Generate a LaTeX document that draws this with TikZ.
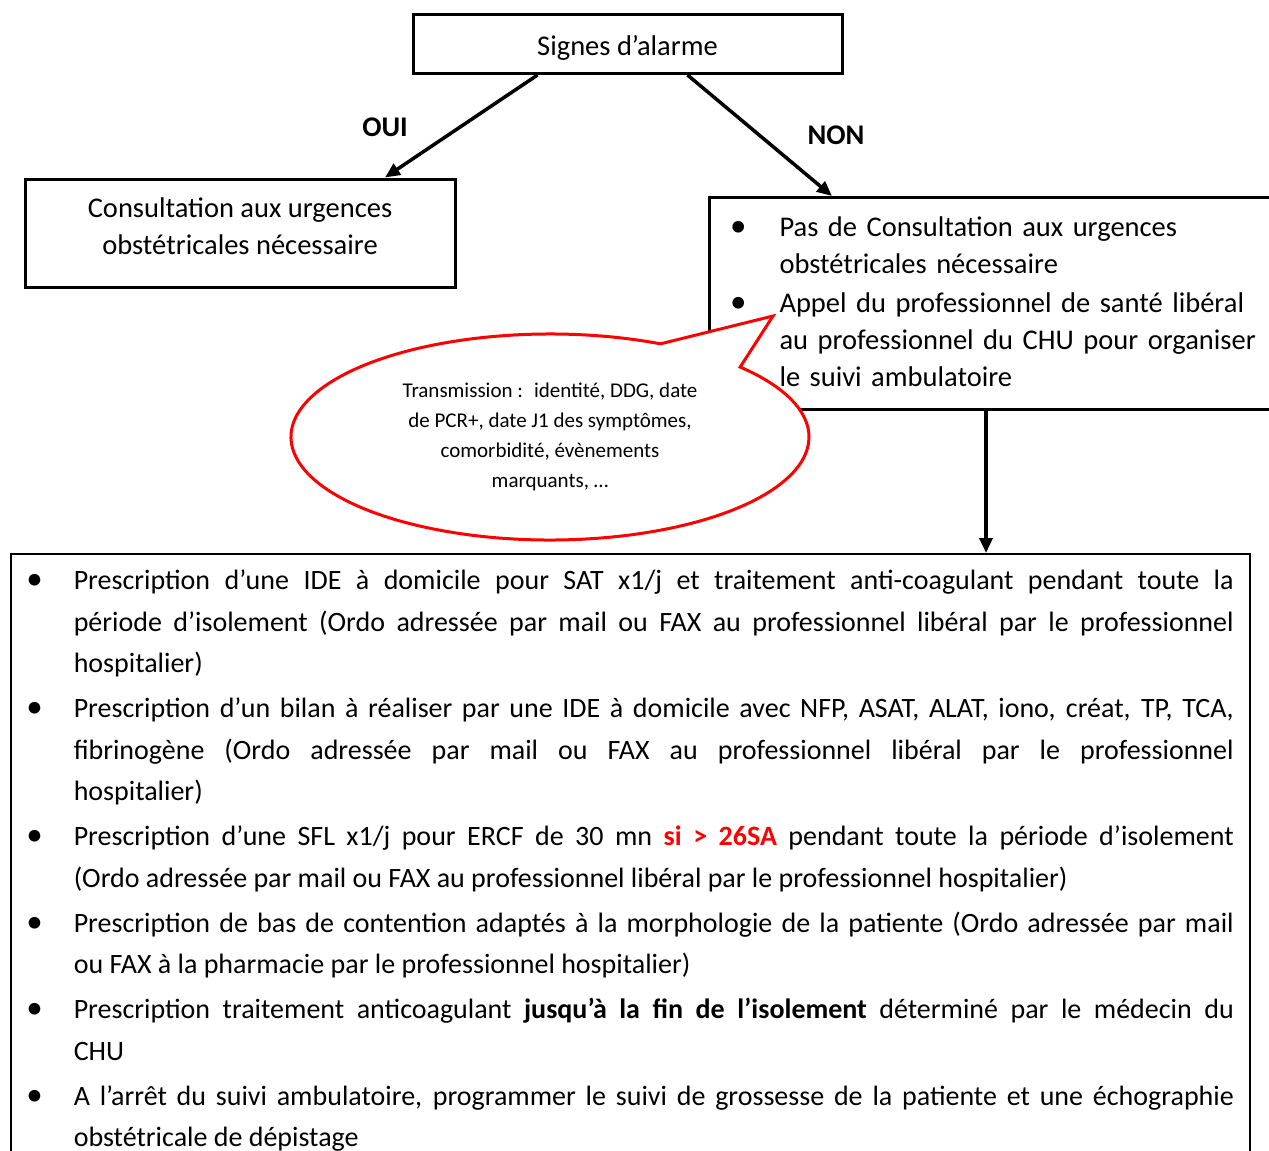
\documentclass[tikz,border=0pt]{standalone}
\usepackage{fontspec}
\setmainfont{Carlito}
\usetikzlibrary{arrows.meta,shapes.callouts}

\newcommand{\puce}[1][31pt]{\noindent\llap{{\fontsize{33}{33}\selectfont\textbullet}\hskip #1}}
\newcommand{\listehaut}{\leftskip=70pt\rightskip=0pt plus 1fil\parindent=0pt\parskip=2pt}
\newcommand{\listebas}{\leftskip=63pt\rightskip=16pt\parindent=0pt\parskip=3.5pt\hyphenpenalty=10000}

\begin{document}
\begin{tikzpicture}[x=1pt,y=-1pt,
    every node/.style={font=\fontsize{28.5}{37}\selectfont},
    cadre/.style={draw, line width=3pt, inner sep=0pt},
    fleche/.style={line width=3.5pt, -{Triangle[length=15pt,width=13pt]}}]
      \useasboundingbox (0,0) rectangle (1269,1151);
      \node[cadre, minimum width=429pt, minimum height=59pt] (alarme) at (627.5,44) {\rule{0pt}{27pt}Signes d’alarme};
      \node[cadre, minimum width=430pt, minimum height=108pt, align=center] (urgences) at (240,233)
        {Consultation aux urgences\\obstétricales nécessaire\rule[-14pt]{0pt}{0pt}};
      \node[cadre, anchor=north west, text width=600pt] (suivi) at (708,196)
        {\listehaut
         \puce[33pt]\rule{0pt}{39pt}Pas de Consultation aux urgences\newline obstétricales nécessaire\par
         \puce[33pt]Appel du professionnel de santé libéral\newline au professionnel du CHU pour organiser\newline le suivi ambulatoire\rule[-23pt]{0pt}{0pt}\par};
      \node[ellipse callout, draw=red, fill=white, line width=3pt, minimum width=518pt, minimum height=206pt,
        callout absolute pointer={(773,316)}, callout pointer arc=22, align=center, inner sep=0pt,
        font=\fontsize{21}{30}\selectfont] (transmission) at (550,437)
        {Transmission :~ identité, DDG, date\\de PCR+, date J1 des symptômes,\\comorbidité, évènements\\marquants, …};
      \node[draw, line width=1.5pt, anchor=north west, inner sep=0pt, text width=1239pt, align=justify,
        font=\fontsize{28}{41.5}\selectfont] (presc) at (10,553)
        {\listebas
         \puce\rule{0pt}{36pt}Prescription d’une IDE à domicile pour SAT x1/j et traitement anti-coagulant pendant toute la\linebreak
         période d’isolement (Ordo adressée par mail ou FAX au professionnel libéral par le professionnel\linebreak
         hospitalier)\par
         \puce Prescription d’un bilan à réaliser par une IDE à domicile avec NFP, ASAT, ALAT, iono, créat, TP, TCA,\linebreak
         fibrinogène (Ordo adressée par mail ou FAX au professionnel libéral par le professionnel\linebreak
         hospitalier)\par
         \puce Prescription d’une SFL x1/j pour ERCF de 30 mn \textcolor{red}{\textbf{si > 26SA}} pendant toute la période d’isolement\linebreak
         (Ordo adressée par mail ou FAX au professionnel libéral par le professionnel hospitalier)\par
         \puce Prescription de bas de contention adaptés à la morphologie de la patiente (Ordo adressée par mail\linebreak
         ou FAX à la pharmacie par le professionnel hospitalier)\par
         \puce Prescription traitement anticoagulant \textbf{jusqu’à la fin de l’isolement} déterminé par le médecin du\linebreak
         CHU\par
         \puce A l’arrêt du suivi ambulatoire, programmer le suivi de grossesse de la patiente et une échographie\linebreak
         obstétricale de dépistage\rule[-30pt]{0pt}{0pt}\par};
      \node[font=\fontsize{28.5}{37}\selectfont\bfseries] (oui) at (385,127) {OUI};
      \node[font=\fontsize{28.5}{37}\selectfont\bfseries] (non) at (836,135) {NON};
      \draw [fleche] ([xshift=-90pt]alarme.south) -- ([xshift=145pt]urgences.north);
      \draw [fleche] ([xshift=60pt]alarme.south) -- ([xshift=124pt]suivi.north west);
      \draw [fleche] ([xshift=278pt]suivi.south west) -- ([xshift=976pt]presc.north west);
    \end{tikzpicture}
\end{document}
